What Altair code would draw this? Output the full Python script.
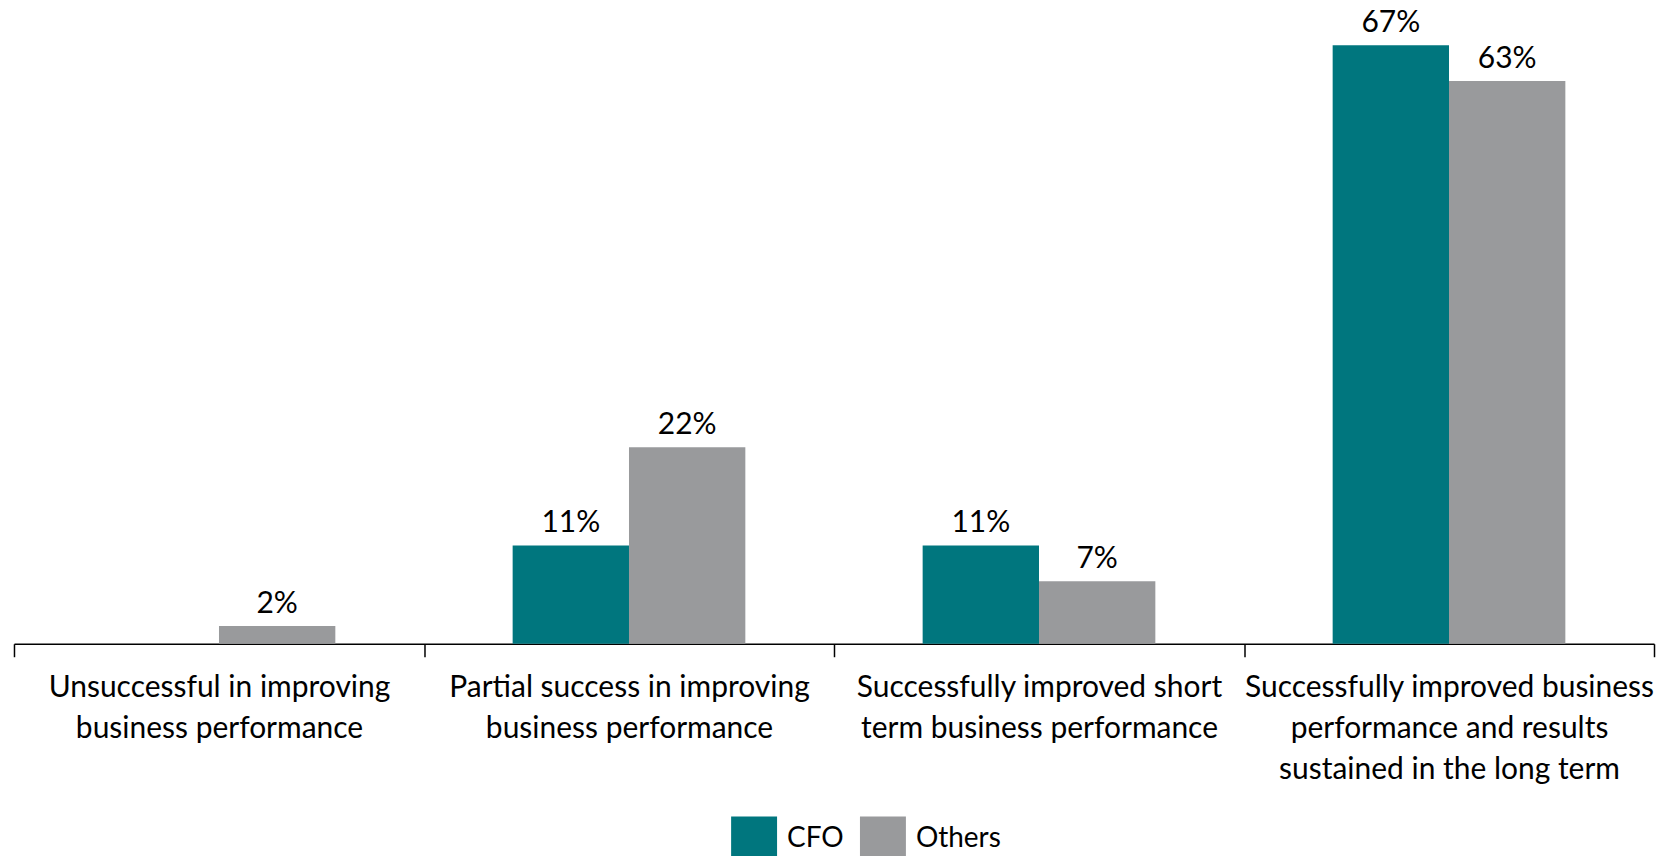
import altair as alt
import pandas as pd

categories = [
    "Unsuccessful in improving\nbusiness performance",
    "Partial success in improving\nbusiness performance",
    "Successfully improved short\nterm business performance",
    "Successfully improved business\nperformance and results\nsustained in the long term",
]
cfo = [0, 11, 11, 67]
others = [2, 22, 7, 63]
series = ["CFO", "Others"]
colors = ["#00767E", "#999A9C"]

rows = []
for c, a, b in zip(categories, cfo, others):
    rows.append({"cat": c, "series": "CFO", "value": a})
    rows.append({"cat": c, "series": "Others", "value": b})
df = pd.DataFrame(rows)

FONT = "Lato"
FS = 30

x = alt.X(
    "cat:N",
    sort=categories,
    scale=alt.Scale(paddingInner=0, paddingOuter=0),
    axis=alt.Axis(
        title=None,
        labelAngle=0,
        labelExpr="datum.value ? split(datum.value, '\\n') : ''",
        labelFont=FONT,
        labelFontSize=FS,
        labelColor="#000000",
        labelLineHeight=41,
        labelPadding=16,
        labelAlign="center",
        labelBaseline="top",
        tickBand="extent",
        tickSize=13,
        tickColor="#000000",
        tickWidth=1.5,
        domainColor="#000000",
        domainWidth=1.5,
        labelLimit=0,
    ),
)
xo = alt.XOffset("series:N", sort=series, scale=alt.Scale(paddingOuter=0.762, paddingInner=0))
y = alt.Y("value:Q", scale=alt.Scale(domain=[0, 72], nice=False), axis=None)

bars = alt.Chart(df).mark_bar().encode(
    x=x,
    xOffset=xo,
    y=y,
    color=alt.Color(
        "series:N",
        sort=series,
        scale=alt.Scale(domain=series, range=colors),
        legend=alt.Legend(
            title=None,
            orient="none",
            legendX=718,
            legendY=817,
            direction="horizontal",
            symbolType="square",
            symbolSize=2116,
            symbolStrokeWidth=0,
            labelFont=FONT,
            labelFontSize=28,
            labelColor="#000000",
            labelOffset=10,
            columnPadding=16,
        ),
    ),
)

labels = alt.Chart(df).transform_filter("datum.value > 0").transform_calculate(
    txt="datum.value + '%'"
).mark_text(font=FONT, fontSize=FS, color="#000000", baseline="alphabetic", dy=-13).encode(
    x=alt.X("cat:N", sort=categories),
    xOffset=xo,
    y=y,
    text="txt:N",
)

chart = (
    alt.layer(bars, labels)
    .properties(width=1642, height=644, padding={"left": 13, "top": 0, "right": 5, "bottom": 0})
    .configure(background="#ffffff", view={"stroke": None})
)

chart.save("out.html", embed_options={"renderer": "svg", "actions": False})
